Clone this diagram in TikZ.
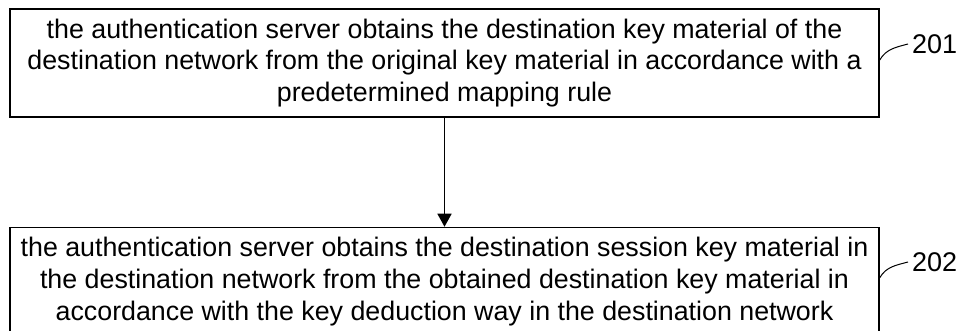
\documentclass[tikz,border=0pt]{standalone}
\usepackage{fontspec}
\setmainfont{Liberation Sans}
\usetikzlibrary{positioning,arrows.meta}

\begin{document}
\begin{tikzpicture}[x=1pt, y=-1pt, >={Triangle[length=13pt,width=14pt]},
	stepbox/.style={draw, line width=1.5pt, minimum width=869pt, minimum height=108pt,
		inner sep=0pt, align=center, font=\fontsize{26.8}{31.8}\selectfont},
	numlabel/.style={font=\fontsize{27}{30}\selectfont, inner sep=1pt}]
	\useasboundingbox (0, 0) rectangle (966, 331);

	% the two steps
	\node[stepbox] (s201) at (444.5, 63) {the authentication server obtains the destination key material of the\\
		destination network from the original key material in accordance with a\\
		predetermined mapping rule};
	\node[stepbox, below=109pt of s201] (s202) {the authentication server obtains the destination session key material in\\
		the destination network from the obtained destination key material in\\
		accordance with the key deduction way in the destination network};

	\draw[line width=1.5pt, ->] (s201) -- (s202);

	% reference numerals
	\node[numlabel, anchor=west] (n201) at (911, 44) {201};
	\node[numlabel, anchor=west] (n202) at (911, 262) {202};
	\draw[line width=1pt] ([yshift=3pt]s201.east) to[out=60, in=195] ([xshift=-3pt]n201.west);
	\draw[line width=1pt] ([yshift=-51pt]s202.north east) to[out=60, in=195] ([xshift=-3pt]n202.west);
\end{tikzpicture}
\end{document}
